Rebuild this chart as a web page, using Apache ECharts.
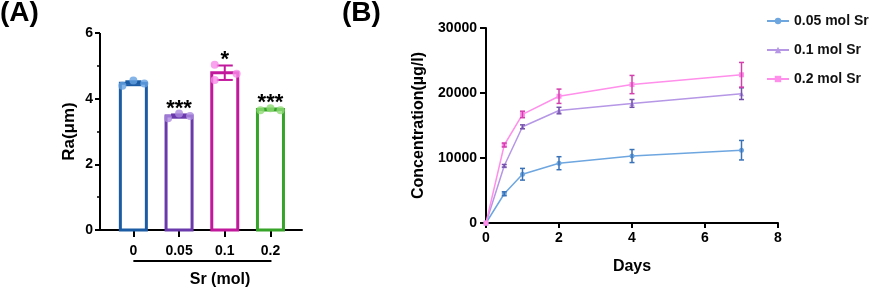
<!DOCTYPE html>
<html>
<head>
<meta charset="utf-8">
<script src="https://cdn.jsdelivr.net/npm/echarts@6/dist/echarts.min.js"></script>
<style>
html, body { margin: 0; padding: 0; background: #fff; }
#main { width: 872px; height: 289px; }
</style>
</head>
<body>
<div id="main"></div>
<script>
// (A) surface roughness
var raCats = ['0', '0.05', '0.1', '0.2'];
var raMean = [4.47, 3.47, 4.79, 3.67];
var raErr = [0.06, 0.05, 0.22, 0.03];
var raPoints = [
    [4.39, 4.55, 4.46],
    [3.40, 3.55, 3.47],
    [5.03, 4.57, 4.76],
    [3.65, 3.71, 3.65]
];
var raStars = ['', '***', '*', '***'];

// (B) Sr release
var days = [0, 0.5, 1, 2, 4, 7];
var sr005 = [0, 4500, 7500, 9200, 10300, 11200];
var sr005Err = [0, 300, 900, 1000, 1000, 1500];
var sr01 = [0, 8800, 14800, 17300, 18400, 19900];
var sr01Err = [0, 200, 300, 500, 600, 900];
var sr02 = [0, 12000, 16700, 19500, 21300, 22800];
var sr02Err = [0, 300, 500, 1100, 1400, 1900];
var srNames = ['0.05 mol Sr', '0.1 mol Sr', '0.2 mol Sr'];

var barColors = ['#1c5ca4', '#6a3aac', '#c2189c', '#36a428'];
var dotColors = ['#66a2e2', '#ad8be0', '#f88be8', '#8fdb74'];
var lineColors = ['#6ea6e0', '#b597e6', '#ff8fea'];
var errColors = ['#3a72b8', '#7452ac', '#d43fae'];
var dotSlots = [[-0.24, 0, 0.24], [-0.24, 0, 0.24], [-0.22, -0.22, 0.26], [-0.22, 0, 0.22]];
var xMinA = -0.73, xMaxA = 3.69, yMaxA = 6;

var font = '"Liberation Sans", Arial, sans-serif';
var myChart = echarts.init(document.getElementById('main'));

function axisText(size) {
    return { color: '#000', fontWeight: 'bold', fontSize: size, fontFamily: font };
}
function plain(v) { return String(v); }

// bar outline + mean/sd lines, panel A
function renderRaBar(params, api) {
    var i = api.value(0), m = api.value(1), e = raErr[i];
    var top = api.coord([i, m]);
    var base = api.coord([i, 0]);
    var hi = api.coord([i, m + e]);
    var lo = api.coord([i, m - e]);
    var w = 26, cap = 8;
    var c = barColors[i];
    var children = [
        { type: 'rect', shape: { x: top[0] - w / 2, y: top[1], width: w, height: base[1] - top[1] },
          style: { fill: '#fff', stroke: c, lineWidth: 3 } },
        { type: 'line', shape: { x1: top[0], y1: hi[1], x2: top[0], y2: lo[1] }, style: { stroke: c, lineWidth: 2 } },
        { type: 'line', shape: { x1: top[0] - cap, y1: hi[1], x2: top[0] + cap, y2: hi[1] }, style: { stroke: c, lineWidth: 2 } },
        { type: 'line', shape: { x1: top[0] - cap, y1: lo[1], x2: top[0] + cap, y2: lo[1] }, style: { stroke: c, lineWidth: 2 } }
    ];
    if (i === 0) {
        // group line under the category labels
        var a = api.coord([0, 0]), b = api.coord([raCats.length - 1, 0]);
        children.push({ type: 'line', shape: { x1: a[0], y1: a[1] + 31, x2: b[0] + 1, y2: a[1] + 31 },
                        style: { stroke: '#000', lineWidth: 2 } });
        // left axis line
        var y0 = api.coord([xMinA, 0]), y1 = api.coord([xMinA, yMaxA]);
        children.push({ type: 'line', shape: { x1: y0[0], y1: y0[1] + 1, x2: y1[0], y2: y1[1] },
                        style: { stroke: '#000', lineWidth: 2 }, z2: 10 });
    }
    return { type: 'group', children: children };
}

function renderStars(params, api) {
    var i = api.value(0);
    var p = api.coord([i, api.value(1)]);
    return { type: 'text', x: p[0], y: p[1] - 5,
             style: { text: raStars[i], fill: '#000', font: 'bold 22px ' + font, align: 'center', verticalAlign: 'middle' } };
}

function errRender(k) {
    return function (params, api) {
        var e = api.value(2);
        if (!e) return null;
        var x = api.value(0), y = api.value(1);
        var hi = api.coord([x, y + e]), lo = api.coord([x, y - e]);
        var cap = 2.5;
        var st = { stroke: errColors[k], lineWidth: 1.5 };
        return { type: 'group', children: [
            { type: 'line', shape: { x1: hi[0], y1: hi[1], x2: lo[0], y2: lo[1] }, style: st },
            { type: 'line', shape: { x1: hi[0] - cap, y1: hi[1], x2: hi[0] + cap, y2: hi[1] }, style: st },
            { type: 'line', shape: { x1: lo[0] - cap, y1: lo[1], x2: lo[0] + cap, y2: lo[1] }, style: st }
        ] };
    };
}

var dotData = [];
raPoints.forEach(function (pts, i) {
    pts.forEach(function (v, j) {
        dotData.push({ value: [i + dotSlots[i][j], v], itemStyle: { color: dotColors[i] } });
    });
});

var srSets = [sr005, sr01, sr02];
var srErrs = [sr005Err, sr01Err, sr02Err];
var srSymbols = ['circle', 'triangle', 'rect'];

var series = [
    { type: 'custom', xAxisIndex: 0, yAxisIndex: 0, clip: false, z: 2,
      data: raMean.map(function (v, i) { return [i, v]; }), renderItem: renderRaBar },
    { type: 'scatter', xAxisIndex: 0, yAxisIndex: 0, z: 3, symbolSize: 8, data: dotData },
    { type: 'custom', xAxisIndex: 0, yAxisIndex: 0, clip: false, z: 4,
      data: raPoints.map(function (pts, i) { return [i, Math.max.apply(null, pts)]; }), renderItem: renderStars }
];

srSets.forEach(function (ys, k) {
    series.push({
        name: srNames[k], type: 'line', xAxisIndex: 1, yAxisIndex: 1, z: 3,
        data: days.map(function (d, n) { return [d, ys[n]]; }),
        symbol: srSymbols[k], symbolSize: 5, showSymbol: true,
        itemStyle: { color: lineColors[k] },
        lineStyle: { color: lineColors[k], width: 1.5 }
    });
    series.push({
        type: 'custom', xAxisIndex: 1, yAxisIndex: 1, z: 4,
        data: days.map(function (d, n) { return [d, ys[n], srErrs[k][n]]; }),
        renderItem: errRender(k)
    });
});

option = {
    animation: false,
    backgroundColor: '#fff',
    title: [
        { text: '(A)', left: 0, top: -1, padding: 0, textStyle: { fontSize: 28, fontWeight: 'bold', fontFamily: font, color: '#000' } },
        { text: '(B)', left: 342, top: -1, padding: 0, textStyle: { fontSize: 28, fontWeight: 'bold', fontFamily: font, color: '#000' } }
    ],
    legend: {
        data: srNames,
        orient: 'vertical',
        left: 761,
        top: 9,
        itemWidth: 22,
        itemHeight: 8,
        itemGap: 15,
        textStyle: { color: '#111', fontWeight: 'bold', fontSize: 14, fontFamily: font }
    },
    grid: [
        { left: 100, top: 33, width: 202, height: 197, outerBoundsMode: 'none' },
        { left: 486, top: 28, width: 292, height: 195, outerBoundsMode: 'none' }
    ],
    xAxis: [
        {
            gridIndex: 0, type: 'value', min: xMinA, max: xMaxA,
            name: 'Sr (mol)', nameLocation: 'middle', nameGap: 42,
            nameTextStyle: Object.assign(axisText(16), { padding: [0, 0, 0, 38] }),
            axisLine: { onZero: false, lineStyle: { color: '#000', width: 2 } },
            axisTick: { length: 7, customValues: [0, 1, 2, 3], lineStyle: { color: '#000', width: 2 } },
            axisLabel: Object.assign(axisText(14), { margin: 14, customValues: [0, 1, 2, 3],
                formatter: function (v) { return raCats[Math.round(v)]; } }),
            splitLine: { show: false }
        },
        {
            gridIndex: 1, type: 'value', min: 0, max: 8, interval: 2,
            name: 'Days', nameLocation: 'middle', nameGap: 36,
            nameTextStyle: axisText(16),
            axisLine: { onZero: false, lineStyle: { color: '#000', width: 2 } },
            axisTick: { length: 5, lineStyle: { color: '#000', width: 2 } },
            axisLabel: Object.assign(axisText(14), { margin: 8, formatter: plain }),
            splitLine: { show: false }
        }
    ],
    yAxis: [
        {
            gridIndex: 0, type: 'value', min: 0, max: yMaxA, interval: 2,
            name: 'Ra(μm)', nameLocation: 'middle', nameGap: 22,
            nameTextStyle: axisText(17),
            axisLine: { show: false, onZero: false },
            axisTick: { show: true, length: 5, lineStyle: { color: '#000', width: 2 } },
            minorTick: { show: true, splitNumber: 2, length: 3, lineStyle: { color: '#000', width: 1.5 } },
            axisLabel: Object.assign(axisText(14), { margin: 7, formatter: plain }),
            splitLine: { show: false }
        },
        {
            gridIndex: 1, type: 'value', min: 0, max: 30000, interval: 10000,
            name: 'Concentration(µg/l)', nameLocation: 'middle', nameGap: 59,
            nameTextStyle: axisText(16),
            axisLine: { show: true, onZero: false, lineStyle: { color: '#000', width: 2 } },
            axisTick: { show: true, length: 6, lineStyle: { color: '#000', width: 2 } },
            axisLabel: Object.assign(axisText(14), { margin: 9, formatter: plain }),
            splitLine: { show: false }
        }
    ],
    series: series
};

myChart.setOption(option);
</script>
</body>
</html>
